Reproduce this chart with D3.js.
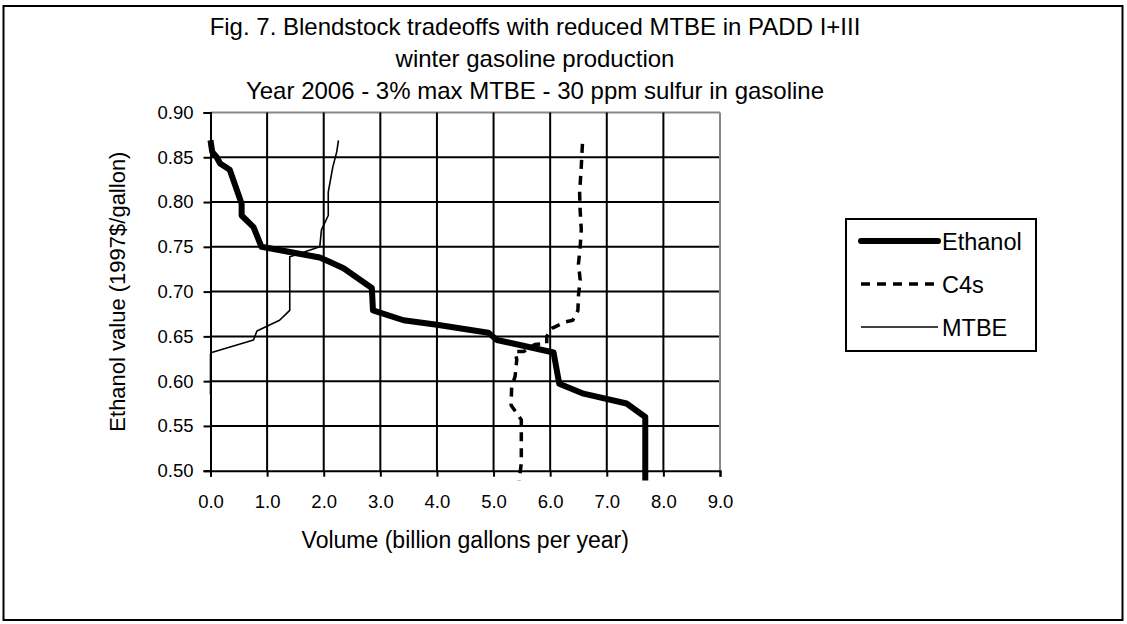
<!DOCTYPE html>
<html>
<head>
<meta charset="utf-8">
<script src="https://cdn.jsdelivr.net/npm/d3@7"></script>
<style>
  body { margin: 0; background: #fff; }
  svg text { font-family: "Liberation Sans", Arial, sans-serif; fill: #000; }
</style>
</head>
<body>
<div id="chart"></div>
<script>
// values (volume in billion gal/yr, ethanol value in 1997$/gal)
const titleLines = [
  "Fig. 7. Blendstock tradeoffs with reduced MTBE in PADD I+III",
  "winter gasoline production",
  "Year 2006 - 3% max MTBE - 30 ppm sulfur in gasoline"
];
const xTicks = [0, 1, 2, 3, 4, 5, 6, 7, 8, 9];
const yTicks = [0.50, 0.55, 0.60, 0.65, 0.70, 0.75, 0.80, 0.85, 0.90];

const ethanolVol = [0.00, 0.03, 0.11, 0.17, 0.34, 0.55, 0.55, 0.76, 0.90, 1.93, 2.11, 2.35, 2.85, 2.87, 3.41, 4.00, 4.91, 5.06, 6.06, 6.16, 6.59, 7.35, 7.68, 7.68];
const ethanolVal = [0.869, 0.856, 0.850, 0.843, 0.836, 0.798, 0.785, 0.772, 0.750, 0.738, 0.733, 0.726, 0.704, 0.679, 0.668, 0.663, 0.654, 0.646, 0.632, 0.597, 0.586, 0.575, 0.560, 0.489];

const c4sVol = [6.57, 6.55, 6.52, 6.53, 6.55, 6.53, 6.50, 6.53, 6.50, 6.49, 6.40, 6.26, 6.03, 5.94, 5.94, 5.73, 5.53, 5.38, 5.41, 5.38, 5.32, 5.31, 5.49, 5.49, 5.45];
const c4sVal = [0.865, 0.840, 0.810, 0.790, 0.769, 0.750, 0.731, 0.713, 0.696, 0.679, 0.668, 0.666, 0.659, 0.650, 0.642, 0.641, 0.633, 0.633, 0.624, 0.605, 0.594, 0.573, 0.557, 0.508, 0.489];

const mtbeVol = [2.26, 2.23, 2.16, 2.08, 2.08, 1.96, 1.93, 1.50, 1.40, 1.40, 1.22, 0.82, 0.76, 0.02, 0.00, 0.00];
const mtbeVal = [0.869, 0.856, 0.839, 0.811, 0.785, 0.769, 0.750, 0.741, 0.739, 0.679, 0.668, 0.656, 0.646, 0.632, 0.630, 0.585];

const seriesNames = ["Ethanol", "C4s", "MTBE"];

const W = 1127, H = 624;
const plot = {left: 210.5, right: 720, top: 112.5, bottom: 470.7};

const svg = d3.select("#chart").append("svg")
  .attr("width", W).attr("height", H);

// outer chart frame
svg.append("rect")
  .attr("x", 3.5).attr("y", 6).attr("width", 1119).attr("height", 614)
  .attr("fill", "none").attr("stroke", "#000").attr("stroke-width", 2);

var x = d3.scaleLinear().domain([0, 9]).range([plot.left, plot.right]);
var y = d3.scaleLinear().domain([0.5, 0.9]).range([plot.bottom, plot.top]);

// titles
svg.append("g").selectAll("text").data(titleLines).enter().append("text")
  .attr("x", 535).attr("y", (d, i) => 35 + i * 32)
  .attr("text-anchor", "middle").attr("font-size", 24)
  .text(d => d);

// gridlines (top and right borders are grey)
svg.append("g").selectAll("line").data(yTicks.slice(1)).enter().append("line")
  .attr("x1", plot.left).attr("x2", plot.right)
  .attr("y1", d => y(d)).attr("y2", d => y(d))
  .attr("stroke", (d, i, n) => i === n.length - 1 ? "#888" : "#000")
  .attr("stroke-width", 2);
svg.append("g").selectAll("line").data(xTicks.slice(1)).enter().append("line")
  .attr("y1", plot.top).attr("y2", plot.bottom)
  .attr("x1", d => x(d)).attr("x2", d => x(d))
  .attr("stroke", (d, i, n) => i === n.length - 1 ? "#888" : "#000")
  .attr("stroke-width", 2);

// axes
var yAxis = svg.append("g")
  .attr("transform", `translate(${plot.left},0)`)
  .call(d3.axisLeft(y).tickValues(yTicks).tickFormat(d3.format(".2f")).tickSize(7).tickPadding(10));
var xAxis = svg.append("g")
  .attr("transform", `translate(0,${plot.bottom})`)
  .call(d3.axisBottom(x).tickValues(xTicks).tickFormat(d3.format(".1f")).tickSize(6).tickPadding(18));
[yAxis, xAxis].forEach(a => {
  a.select(".domain").attr("stroke", "#000").attr("stroke-width", 2);
  a.selectAll(".tick line").attr("stroke", "#000").attr("stroke-width", 2);
  a.selectAll(".tick text").attr("font-size", 18.5)
    .attr("font-family", "Liberation Sans, Arial, sans-serif");
});

// axis titles
svg.append("text")
  .attr("x", (plot.left + plot.right) / 2).attr("y", 548)
  .attr("text-anchor", "middle").attr("font-size", 23)
  .text("Volume (billion gallons per year)");
svg.append("text")
  .attr("transform", `translate(125,${(plot.top + plot.bottom) / 2}) rotate(-90)`)
  .attr("text-anchor", "middle").attr("font-size", 22)
  .text("Ethanol value (1997$/gallon)");

// series
const line = d3.line().x(d => x(d[0])).y(d => y(d[1]));
const styles = {
  Ethanol: {w: 6, dash: null},
  C4s: {w: 3.5, dash: "9,7"},
  MTBE: {w: 1.6, dash: null}
};
const seriesData = {
  Ethanol: d3.zip(ethanolVol, ethanolVal),
  C4s: d3.zip(c4sVol, c4sVal),
  MTBE: d3.zip(mtbeVol, mtbeVal)
};
seriesNames.forEach(name => {
  svg.append("path")
    .datum(seriesData[name])
    .attr("d", line)
    .attr("fill", "none").attr("stroke", "#000")
    .attr("stroke-width", styles[name].w)
    .attr("stroke-linejoin", "round")
    .attr("stroke-dasharray", styles[name].dash);
});

// legend
var legend = svg.append("g");
legend.append("rect")
  .attr("x", 846).attr("y", 219).attr("width", 190).attr("height", 132)
  .attr("fill", "#fff").attr("stroke", "#000").attr("stroke-width", 2);
seriesNames.forEach((name, i) => {
  const ly = 241 + i * 43;
  legend.append("line")
    .attr("x1", 861).attr("x2", 938).attr("y1", ly).attr("y2", ly)
    .attr("stroke", "#000").attr("stroke-width", styles[name].w)
    .attr("stroke-linecap", name === "Ethanol" ? "round" : "butt")
    .attr("stroke-dasharray", styles[name].dash);
  legend.append("text")
    .attr("x", 942).attr("y", ly + 9).attr("font-size", 23.5)
    .text(name);
});
</script>
</body>
</html>
